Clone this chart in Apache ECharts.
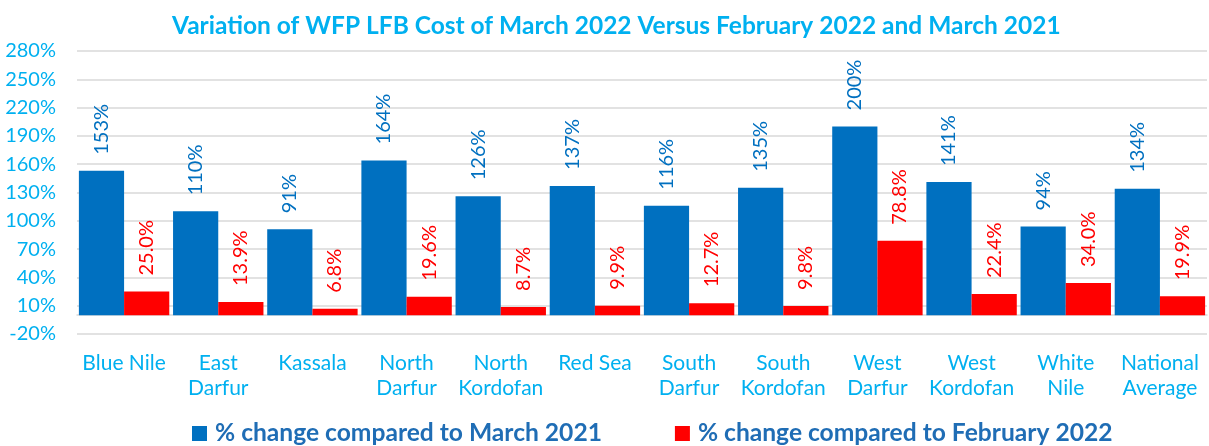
<!DOCTYPE html>
<html>
<head>
<meta charset="utf-8">
<title>WFP LFB Cost Variation</title>
<script src="https://cdn.jsdelivr.net/npm/echarts@6/dist/echarts.min.js"></script>
<style>
    html, body { margin: 0; padding: 0; background: #fff; }
    #main { width: 1209px; height: 446px; }
</style>
</head>
<body>
<div id="main"></div>
<script type="text/javascript">
    // 数据
    var categories = ['Blue Nile', 'East\nDarfur', 'Kassala', 'North\nDarfur', 'North\nKordofan', 'Red Sea',
        'South\nDarfur', 'South\nKordofan', 'West\nDarfur', 'West\nKordofan', 'White\nNile', 'National\nAverage'];
    var vsMarch2021 = [153, 110, 91, 164, 126, 137, 116, 135, 200, 141, 94, 134];
    var vsFeb2022 = [25.0, 13.9, 6.8, 19.6, 8.7, 9.9, 12.7, 9.8, 78.8, 22.4, 34.0, 19.9];
    var tickLabels = ['-20%', '10%', '40%', '70%', '100%', '130%', '160%', '190%', '220%', '250%', '280%'];

    var font = 'Lato';
    var myChart = echarts.init(document.getElementById('main'));

    var option = {
        animation: false,
        title: {
            text: 'Variation of WFP LFB Cost of March 2022 Versus February 2022 and March 2021',
            left: 167,
            top: 9,
            textStyle: { color: '#00B0F0', fontSize: 24.5, fontWeight: 'bold', fontFamily: font }
        },
        legend: {
            top: 416,
            left: 187,
            itemWidth: 15,
            itemHeight: 15,
            itemGap: 73,
            icon: 'rect',
            textStyle: { color: '#1F6DB5', fontSize: 24.6, fontWeight: 'bold', fontFamily: font, padding: [0, 0, 0, 3] }
        },
        grid: { left: 77, right: 2, top: 51, bottom: 112 },
        xAxis: {
            type: 'category',
            data: categories,
            axisLine: { onZero: true, onZeroAxisIndex: 1, lineStyle: { color: '#d9d9d9', width: 1.5 } },
            axisTick: { show: false },
            axisLabel: { color: '#00B0F0', fontSize: 21, fontFamily: font, lineHeight: 25, margin: 17, interval: 0 }
        },
        yAxis: [{
            // 可见刻度轴：-20% 到 280%，每 30%
            type: 'value',
            min: 0,
            max: 300,
            interval: 30,
            axisLine: { show: false },
            axisTick: { show: false },
            splitLine: { lineStyle: { color: '#d9d9d9', width: 1.5 } },
            axisLabel: {
                color: '#00B0F0', fontSize: 20, fontFamily: font, margin: 21,
                formatter: function (v) { return tickLabels[Math.round(v / 30)]; }
            }
        }, {
            // 数据轴
            type: 'value',
            min: -20,
            max: 280,
            show: false
        }],
        series: [{
            name: '% change compared to March 2021',
            type: 'bar',
            yAxisIndex: 1,
            data: vsMarch2021,
            barGap: 0,
            barCategoryGap: '4%',
            itemStyle: { color: '#0070C0' },
            label: {
                show: true, position: 'top', rotate: 90, align: 'left', verticalAlign: 'middle', distance: 16,
                color: '#0070C0', fontSize: 20, fontFamily: font,
                formatter: function (p) { return p.value + '%'; }
            }
        }, {
            name: '% change compared to February 2022',
            type: 'bar',
            yAxisIndex: 1,
            data: vsFeb2022,
            barGap: 0,
            barCategoryGap: '4%',
            itemStyle: { color: '#FF0000' },
            label: {
                show: true, position: 'top', rotate: 90, align: 'left', verticalAlign: 'middle', distance: 16,
                color: '#FF0000', fontSize: 20, fontFamily: font,
                formatter: function (p) { return p.value.toFixed(1) + '%'; }
            }
        }]
    };

    myChart.setOption(option);
</script>
</body>
</html>
